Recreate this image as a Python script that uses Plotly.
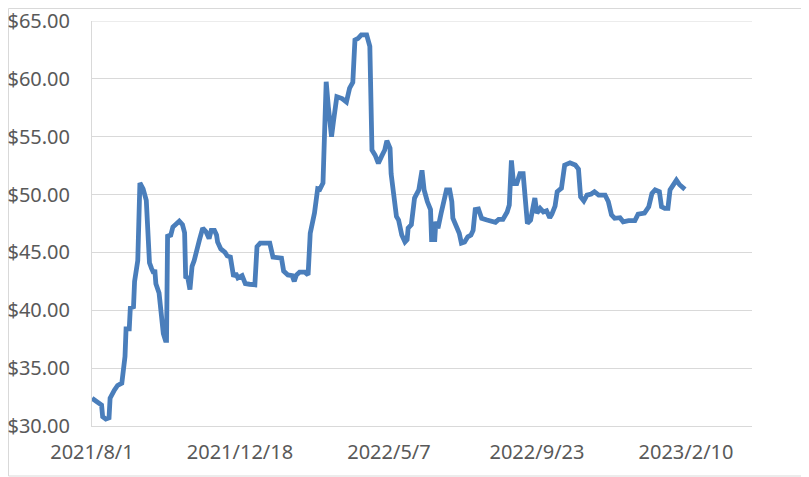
import pandas as pd
import plotly.graph_objects as go

start_date = "2021-08-01"
axis_end_date = "2023-04-13"

# days since 2021/8/1
day_offsets = [
    0, 4, 9, 10, 13, 16, 17, 21, 24, 28, 29, 31, 32, 35, 36, 39, 40, 42, 43, 45,
    48, 51, 53, 54, 56, 58, 59, 60, 63, 65, 67, 69, 70, 71, 74, 76, 79, 82, 85, 87,
    88, 90, 92, 94, 96, 99, 101, 104, 107, 110, 112, 115, 117, 118, 121, 125, 127,
    130, 133, 135, 137, 141, 144, 148, 153, 155, 158, 163, 167, 170, 174, 178, 180,
    184, 188, 190, 192, 195, 200, 203, 205, 209, 212, 214, 217, 220, 222, 225, 227,
    230, 235, 239, 242, 245, 247, 250, 253, 258, 261, 263, 266, 269, 272, 275, 277,
    278, 280, 281, 283, 286, 288, 291, 294, 296, 297, 300, 303, 307, 310, 312, 315,
    318, 319, 322, 323, 325, 328, 331, 333, 336, 338, 339, 343, 345, 347, 350, 353,
    356, 358, 360, 363, 366, 371, 375, 379, 382, 386, 390, 392, 394, 396, 399, 402,
    405, 407, 409, 412, 416, 418, 421, 424, 427, 430, 432, 435, 437, 441, 444, 449,
    454, 457, 459, 462, 465, 469, 472, 476, 482, 485, 488, 491, 496, 499, 504, 510,
    513, 519, 523, 526, 529, 533, 535, 538, 541, 543, 546, 549, 552, 557,
]

prices = [
    32.4, 32.1, 31.8, 30.8, 30.6, 30.7, 32.4, 33.1, 33.5, 33.7, 34.3, 36.0, 38.4, 38.4, 40.2, 40.3, 42.5, 43.5, 44.3, 51.0,
    50.5, 49.5, 46.4, 44.1, 43.6, 43.2, 43.5, 42.3, 41.5, 40.0, 38.0, 37.4, 37.4, 46.4, 46.5, 47.2, 47.5, 47.7, 47.4, 46.7,
    42.9, 42.8, 41.8, 43.8, 44.3, 45.2, 46.1, 47.1, 46.8, 46.2, 46.9, 46.9, 46.5, 45.9, 45.3, 45.0, 44.7,
    44.6, 42.9, 43.2, 42.8, 43.0, 42.3, 42.25, 42.2, 45.5, 45.8, 45.8, 45.8, 44.6, 44.5, 44.5, 43.4,
    43.05, 43.0, 42.5, 43.05, 43.3, 43.3, 43.05, 46.65, 48.4, 50.5, 50.45, 51.0, 59.75, 57.6, 55.0, 56.45,
    58.45, 58.3, 58.0, 59.2, 59.7, 63.35, 63.5, 63.8, 63.8, 62.8, 53.85, 53.4, 52.7, 53.3, 53.85, 54.65,
    54.3, 54.0, 51.8, 50.1, 48.1, 47.8, 46.5, 45.9, 46.1, 47.1, 47.4, 49.7, 50.4, 52.1, 50.4, 49.4,
    48.7, 46.1, 46.1, 47.65, 47.1, 48.4, 49.7, 50.4, 50.4, 49.4, 47.95, 47.2, 46.65, 45.8, 45.9, 46.35,
    46.5, 46.9, 48.7, 48.75, 47.95, 47.8, 47.75, 47.6, 47.85, 47.85, 48.5, 49.1, 52.95, 50.95, 50.95, 51.8,
    51.8, 49.95, 47.5, 47.8, 49.7, 48.4, 48.8, 48.5, 48.6, 48.0, 48.3, 49.0, 50.25, 50.55, 52.55, 52.75,
    52.55, 52.2, 49.8, 49.45, 49.95, 50.05, 50.25, 49.95, 49.95, 49.4, 48.25, 47.95, 48.0, 47.65, 47.75, 47.75,
    48.3, 48.4, 48.95, 50.1, 50.4, 50.25, 48.95, 48.8, 48.8, 50.4, 50.75, 51.25, 50.85, 50.45,
]

tick_dates = ["2021-08-01", "2021-12-18", "2022-05-07", "2022-09-23", "2023-02-10"]
tick_labels = ["2021/8/1", "2021/12/18", "2022/5/7", "2022/9/23", "2023/2/10"]

y_min, y_max, y_step = 30, 65, 5

dates = pd.Timestamp(start_date) + pd.to_timedelta(day_offsets, unit="D")

fig = go.Figure()
fig.add_trace(go.Scatter(
    x=dates, y=prices, mode="lines",
    line=dict(color="#4A7EBB", width=4.8),
    hoverinfo="x+y",
))

font_family = "Noto Sans, Open Sans, sans-serif"
grid_color = "#D9D9D9"
text_color = "#595959"

# the page body has an 8px margin, so the figure is placed at (8, 8)
W, H = 801, 469
L, T, PW, PH = 84, 13, 660, 405

fig.update_layout(
    width=W, height=H,
    margin=dict(l=L, r=W - L - PW, t=T, b=H - T - PH),
    paper_bgcolor="white", plot_bgcolor="white",
    showlegend=False,
    font=dict(family=font_family, size=20, color=text_color),
    xaxis=dict(
        type="date", automargin=False,
        range=[start_date, axis_end_date],
        tickvals=tick_dates, ticktext=tick_labels,
        showgrid=False, zeroline=False,
        showline=True, linecolor=grid_color, linewidth=1,
        ticks="", ticklabelstandoff=8, ticklabeloverflow="allow",
        tickfont=dict(size=20, color=text_color),
    ),
    yaxis=dict(
        automargin=False,
        range=[y_min, y_max], dtick=y_step, tick0=y_min,
        tickprefix="$", tickformat=".2f",
        showgrid=True, gridcolor=grid_color, gridwidth=1,
        zeroline=False,
        showline=True, linecolor=grid_color, linewidth=1,
        ticks="", ticklabelstandoff=17, ticklabeloverflow="allow",
        tickfont=dict(size=20, color=text_color),
    ),
    shapes=[
        dict(
            type="rect", xref="paper", yref="paper",
            x0=(0.5 - L) / PW, x1=(798 - L) / PW,
            y0=(T + PH - 468) / PH, y1=(T + PH - 0.5) / PH,
            line=dict(color=grid_color, width=1), fillcolor="rgba(0,0,0,0)",
            layer="below",
        ),
        dict(
            type="line", xref="paper", yref="y",
            x0=0, x1=1, y0=y_max, y1=y_max,
            line=dict(color=grid_color, width=1), layer="below",
        ),
    ],
)

fig.write_html("out.html")
